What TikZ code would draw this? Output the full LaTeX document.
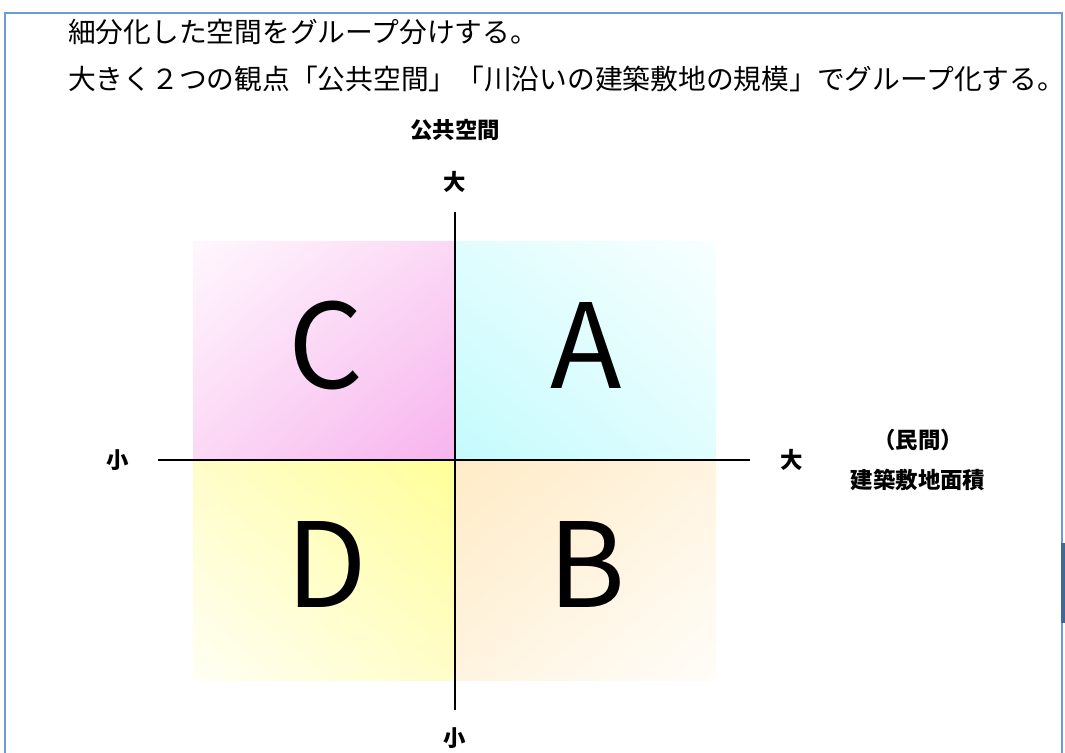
\documentclass[tikz,border=0pt]{standalone}
\usepackage{fontspec}
\setmainfont{Noto Sans CJK JP}
\usetikzlibrary{positioning,shadings}

\definecolor{framebl}{HTML}{6A9CD8}
\definecolor{barbl}{HTML}{41689A}
\definecolor{pinkS}{HTML}{F7B3EE}
\definecolor{pinkM}{HTML}{FBD8F5}
\definecolor{pinkL}{HTML}{FFF7FE}
\definecolor{cyanS}{HTML}{C4FBFD}
\definecolor{cyanM}{HTML}{E0FDFE}
\definecolor{cyanL}{HTML}{F8FFFF}
\definecolor{yelS}{HTML}{FFFF99}
\definecolor{yelM}{HTML}{FFFDC8}
\definecolor{yelL}{HTML}{FFFFF4}
\definecolor{peachS}{HTML}{FFEBC6}
\definecolor{peachM}{HTML}{FFF4E0}
\definecolor{peachL}{HTML}{FFFDF9}

\tikzset{
  axislbl/.style={font=\fontsize{16.8}{18}\selectfont\bfseries},
  quadlbl/.style={font=\fontsize{88}{90}\selectfont, anchor=base},
  headline/.style={anchor=west, font=\fontsize{20.8}{24}\selectfont},
}

\begin{document}
\begin{tikzpicture}[x=0.75pt, y=-0.75pt, every node/.style={inner sep=0pt}]
    \useasboundingbox (0,0) rectangle (1065,753);
    % frame
    \draw[framebl, line width=1.8pt] (5,753) -- (5,13) -- (1062,13) -- (1062,753);
    \fill[barbl] (1061,543) rectangle (1065,623);

    % header text
    \node[headline] (head1) at (68,32) {細分化した空間をグループ分けする。};
    \node[headline] (head2) at (68,79) {大きく２つの観点「公共空間」「川沿いの建築敷地の規模」でグループ化する。};

    % quadrants
    \shade[upper left=pinkL, upper right=pinkM, lower left=pinkM, lower right=pinkS] (193,241) rectangle (455,460);
    \shade[upper left=cyanM, upper right=cyanL, lower left=cyanS, lower right=cyanM] (455,241) rectangle (716,460);
    \shade[upper left=yelM, upper right=yelS, lower left=yelL, lower right=yelM] (193,460) rectangle (455,680);
    \shade[upper left=peachS, upper right=peachM, lower left=peachM, lower right=peachL] (455,460) rectangle (716,680);

    \node[quadlbl] (qC) at (326,388) {C};
    \node[quadlbl] (qA) at (586,388) {A};
    \node[quadlbl] (qD) at (327,607) {D};
    \node[quadlbl] (qB) at (587,607) {B};

    % axes
    \coordinate (ytop) at (455,212);
    \coordinate (ybot) at (455,710);
    \coordinate (xleft) at (158,460);
    \coordinate (xright) at (750,460);
    \draw[line width=1.3pt] (ytop) -- (ybot);
    \draw[line width=1.3pt] (xleft) -- (xright);

    % axis labels
    \node[axislbl] (pub) at (455,130) {公共空間};
    \node[axislbl] (ybig) at (455,182) {大};
    \node[axislbl] (ysmall) at (455,738) {小};
    \node[axislbl] (xsmall) at (118,460) {小};
    \node[axislbl] (xbig) at (792,460) {大};
    \node[axislbl] (priv) at (918,440) {（民間）};
    \node[axislbl] (area) at (918,480) {建築敷地面積};
\end{tikzpicture}
\end{document}
